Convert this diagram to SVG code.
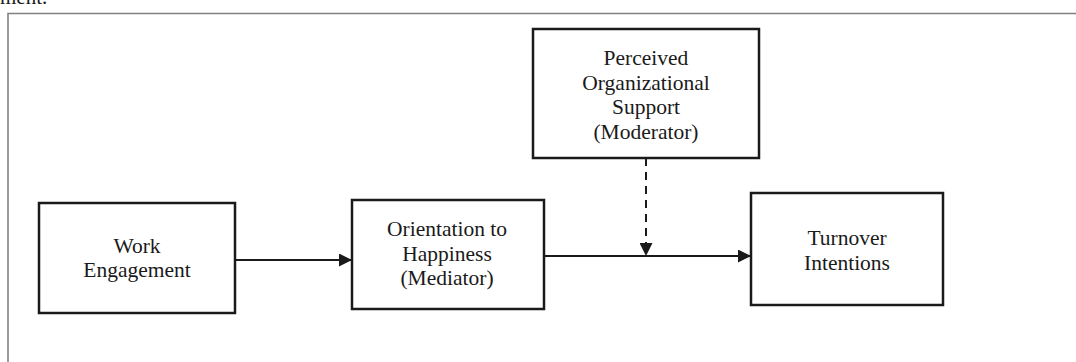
<svg xmlns="http://www.w3.org/2000/svg" width="1076" height="362" viewBox="0 0 1076 362">
<style>
.box{fill:#fff;stroke:#1a1a1a;stroke-width:2.5}
.lbl{font-family:"Liberation Serif","Times New Roman",serif;font-size:21.5px;fill:#1a1a1a;text-anchor:middle}
.con{stroke:#1a1a1a;stroke-width:2;fill:none}
.dash{stroke-dasharray:8 6}
.frame{stroke:#808080;stroke-width:1.6;fill:none}
</style>
<defs>
<marker id="ah" markerWidth="13" markerHeight="13" refX="13" refY="6.5" orient="auto" markerUnits="userSpaceOnUse">
<path d="M0,0 L13,6.5 L0,13 Z" fill="#1a1a1a"/>
</marker>
</defs>
<rect width="1076" height="362" fill="#fff"/>
<text x="0" y="4" font-family="Liberation Serif, serif" font-size="21" fill="#1a1a1a">ment.</text>
<path class="frame" d="M8,362 L8,13.5 L1076,13.5"/>
<g id="connectors">
<line class="con" x1="235" y1="260" x2="352" y2="260" marker-end="url(#ah)"/>
<line class="con" x1="544" y1="256" x2="751" y2="256" marker-end="url(#ah)"/>
<line class="con dash" x1="646" y1="158" x2="646" y2="256" marker-end="url(#ah)"/>
</g>
<g id="work-engagement">
<rect class="box" x="39" y="203" width="196" height="110"/>
<text class="lbl" x="137" y="253">Work</text>
<text class="lbl" x="137" y="277">Engagement</text>
</g>
<g id="orientation-to-happiness">
<rect class="box" x="352" y="200" width="192" height="109"/>
<text class="lbl" x="447" y="236">Orientation to</text>
<text class="lbl" x="447" y="260.5">Happiness</text>
<text class="lbl" x="447" y="285">(Mediator)</text>
</g>
<g id="perceived-organizational-support">
<rect class="box" x="533" y="29" width="226" height="129"/>
<text class="lbl" x="646" y="65">Perceived</text>
<text class="lbl" x="646" y="89.5">Organizational</text>
<text class="lbl" x="646" y="114">Support</text>
<text class="lbl" x="646" y="138.5">(Moderator)</text>
</g>
<g id="turnover-intentions">
<rect class="box" x="751" y="193" width="192" height="112"/>
<text class="lbl" x="847" y="245">Turnover</text>
<text class="lbl" x="847" y="270">Intentions</text>
</g>
</svg>
